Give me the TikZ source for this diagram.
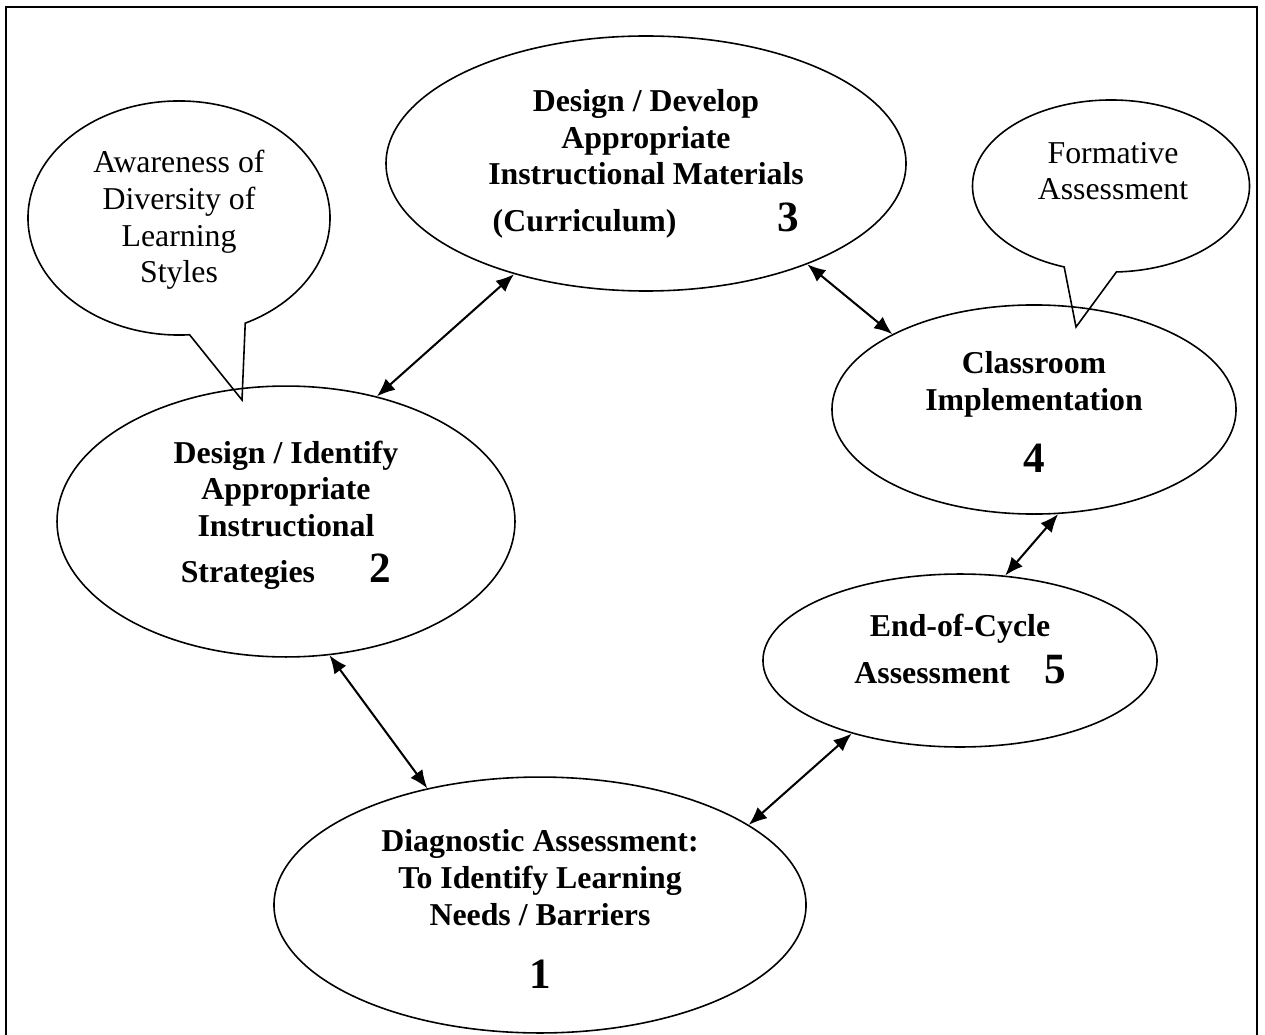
\documentclass[tikz,border=0pt]{standalone}
\usepackage{fontspec}
\setmainfont{Liberation Serif}
\usetikzlibrary{shapes.geometric,shapes.callouts,arrows.meta}
\newcommand{\stagenum}[1]{{\fontsize{19}{21}\selectfont#1}}
\begin{document}
\begin{tikzpicture}[x=0.44pt, y=-0.44pt, >={Latex[length=8pt,width=6.5pt]},
    stg/.style={draw, ellipse, line width=0.7pt, inner sep=0pt},
    bub/.style={draw, ellipse callout, line width=0.7pt, inner sep=0pt, callout pointer arc=22},
    lbl/.style={align=center, inner sep=0pt, font=\fontsize{14}{16.1}\selectfont\bfseries},
    txt/.style={align=center, inner sep=0pt, font=\fontsize{14}{16.1}\selectfont},
    lnk/.style={<->, line width=0.9pt}]
  \useasboundingbox (0,0) rectangle (1265,1034);
  \draw[line width=0.9pt] (6,7) rectangle (1257,1060);
  % speech bubbles
  \node[bub, minimum width=132.9pt, minimum height=103pt, callout absolute pointer={(242,400)}] (aw) at (179,218) {};
  \node[txt] (awt) at (179,220) {Awareness of\\Diversity of\\Learning\\Styles};
  \node[bub, minimum width=121.9pt, minimum height=75.7pt, callout absolute pointer={(1076,327)}] (fa) at (1111,186) {};
  \node[txt] (fat) at (1113,171) {Formative\\Assessment};
  % stages of the cycle
  \node[stg, minimum width=234.1pt, minimum height=112.6pt] (s1) at (540,905) {};
  \node[stg, minimum width=201.5pt, minimum height=119.2pt] (s2) at (286,521.5) {};
  \node[stg, minimum width=228.8pt, minimum height=112.2pt] (s3) at (646,163.5) {};
  \node[stg, minimum width=177.8pt, minimum height=92pt] (s4) at (1034,409.5) {};
  \node[stg, minimum width=173.4pt, minimum height=76.1pt] (s5) at (960,660.5) {};
  \node[lbl] (t1) at (540,909) {Diagnostic Assessment:\\To Identify Learning\\Needs / Barriers\\[11.7pt]\stagenum{1}};
  \node[lbl] (t2) at (286,515) {Design / Identify\\Appropriate\\Instructional\\[4.2pt]Strategies\hspace{24pt}\stagenum{2}};
  \node[lbl] (t3) at (646,164) {Design / Develop\\Appropriate\\Instructional Materials\\[4.6pt](Curriculum)\hspace{44.5pt}\stagenum{3}};
  \node[lbl] (t4) at (1034,412) {Classroom\\Implementation\\[11.2pt]\stagenum{4}};
  \node[lbl] (t5) at (960,649) {End-of-Cycle\\[4.2pt]Assessment\hspace{15pt}\stagenum{5}};
  % links
  \draw[lnk] (s2.54) -- (s3.220);
  \draw[lnk] (s3.328) -- (s4.152);
  \draw[lnk] (s4.283) -- (s5.62);
  \draw[lnk] (s5.214) -- (s1.21);
  \draw[lnk] (s2.288) -- (s1.134);
\end{tikzpicture}
\end{document}
